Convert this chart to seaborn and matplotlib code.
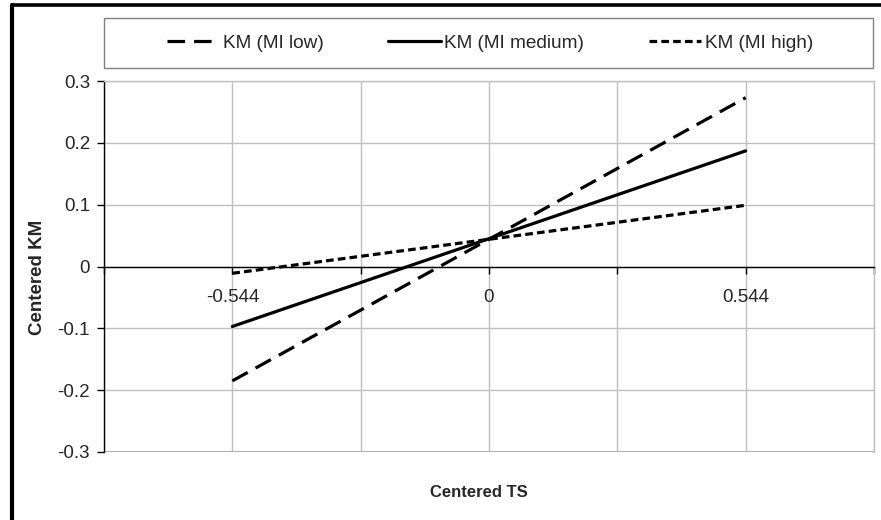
import numpy as np
import pandas as pd
import matplotlib
matplotlib.use("Agg")
import matplotlib.pyplot as plt
from matplotlib.lines import Line2D
from matplotlib.patches import Rectangle
import seaborn as sns

# values
ts = [-0.544, 0.0, 0.544]
km_low = [-0.185, 0.044, 0.273]
km_medium = [-0.097, 0.045, 0.187]
km_high = [-0.011, 0.044, 0.099]
series_names = ["KM (MI low)", "KM (MI medium)", "KM (MI high)"]

x_ticks = [-0.816, -0.544, -0.272, 0.0, 0.272, 0.544, 0.816]
x_tick_labels = ["", "-0.544", "", "0", "", "0.544", ""]
y_ticks = [-0.3, -0.2, -0.1, 0.0, 0.1, 0.2, 0.3]
y_tick_labels = ["-0.3", "-0.2", "-0.1", "0", "0.1", "0.2", "0.3"]

df = pd.DataFrame({
    "TS": ts * 3,
    "KM": km_low + km_medium + km_high,
    "series": np.repeat(series_names, len(ts)),
})

sns.set_style("white")
plt.rcParams["font.family"] = ["Liberation Sans", "DejaVu Sans"]

W, H = 881, 520
fig = plt.figure(figsize=(W / 100, H / 100), dpi=100)
ax = fig.add_axes([104 / W, 1 - 452 / H, (874 - 104) / W, (452 - 81) / H])

dash_styles = {
    "KM (MI low)": (5.5, 2.8),
    "KM (MI medium)": "",
    "KM (MI high)": (2.4, 1.3),
}
sns.lineplot(data=df, x="TS", y="KM", style="series", dashes=dash_styles,
             color="black", linewidth=2.3, ax=ax, sort=False)

handles, labels = ax.get_legend_handles_labels()
ax.legend_.remove()

ax.set_xlim(-0.816, 0.816)
ax.set_ylim(-0.3, 0.3)
ax.set_xticks(x_ticks)
ax.set_xticklabels(x_tick_labels)
ax.set_yticks(y_ticks)
ax.set_yticklabels(y_tick_labels)

ax.grid(True, color="#c0c0c0", linewidth=1)
ax.set_axisbelow(True)
ax.spines["bottom"].set_position(("data", 0))
ax.spines["bottom"].set_color("black")
ax.spines["left"].set_color("black")
ax.spines["top"].set_color("#c0c0c0")
ax.spines["right"].set_color("#c0c0c0")
for s in ax.spines.values():
    s.set_linewidth(1)
ax.axhline(-0.3, color="#b0b0b0", linewidth=1.5)

ax.tick_params(axis="x", direction="out", length=5, width=1, color="black",
               pad=11, labelsize=13.5, bottom=True)
ax.tick_params(axis="y", direction="out", length=5, width=1, color="black",
               pad=5, labelsize=13.5, left=True)

ax.set_xlabel("Centered TS", fontsize=12, fontweight="bold")
ax.set_ylabel("Centered KM", fontsize=13.5, fontweight="bold")
ax.xaxis.set_label_coords((479 - 104) / (874 - 104), -(485 - 452) / (452 - 81))
ax.yaxis.set_label_coords(-(104 - 46) / (874 - 104), (452 - 277) / (452 - 81))

# legend frame and entries
fig.patches.append(Rectangle((104 / W, 1 - 68 / H), (873 - 104) / W, 50 / H,
                             transform=fig.transFigure, fill=False,
                             edgecolor="#808080", linewidth=1))
fig.legend(handles, labels, loc="center", bbox_to_anchor=(490 / W, 1 - 43 / H),
           ncol=3, frameon=False, fontsize=13.7, handlelength=2.75,
           handletextpad=0.2, columnspacing=3.4)

# outer chart border (left and top)
fig.add_artist(Line2D([12 / W, 12 / W], [0, 1 - 5 / H], transform=fig.transFigure,
                      color="black", linewidth=3))
fig.add_artist(Line2D([12 / W, 1], [1 - 5 / H, 1 - 5 / H], transform=fig.transFigure,
                      color="black", linewidth=2.6))

fig.savefig("out.png", dpi=100)
